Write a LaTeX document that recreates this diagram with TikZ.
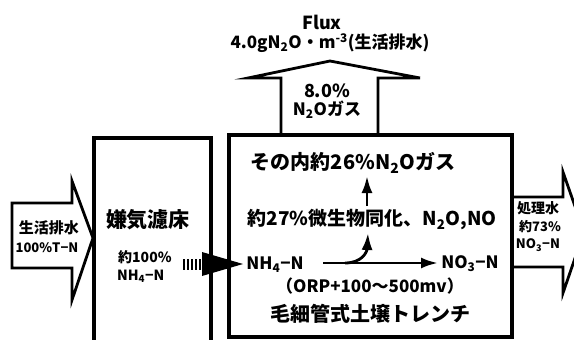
\documentclass[tikz,border=0pt]{standalone}
\usepackage{fontspec}
\setmainfont{Noto Sans CJK JP}
\usetikzlibrary{arrows.meta,calc}
\begin{document}
\begin{tikzpicture}[x=1pt,y=-1pt,
  boxline/.style={line width=4.2pt,line join=miter,line cap=butt},
  outline/.style={line width=2.8pt,line join=miter},
  lbl/.style={inner sep=0pt,align=center},
  arr/.style={line width=2.8pt,-{Latex[length=17pt,width=11pt]}},
  fs/.style={font=\fontsize{#1}{#1}\selectfont\bfseries}]
\useasboundingbox (0,0) rectangle (574,340);
% boxes
\draw[boxline] (94,345) -- (94,138) -- (211,138) -- (211,345);
\draw[boxline] (229,135) rectangle (512,337);
% top arrow
\draw[outline] (281,134) -- (281,78) -- (248,78) -- (330,61) -- (420,78) -- (378,78) -- (378,134);
% left arrow
\draw[outline] (93,238) -- (72,181) -- (72,203) -- (12,203) -- (12,268) -- (72,268) -- (72,300) -- cycle;
% right arrow
\draw[outline] (512,197) -- (563,197) -- (563,172) -- (584,232) -- (563,293) -- (563,267) -- (512,267);
% texts
\node[lbl,fs=18] (flux) at (322,22) {Flux};
\node[lbl,fs=17] (fluxv) at (330,43) {4.0gN\textsubscript{2}O・m\textsuperscript{-3}(生活排水)};
\node[lbl,fs=18] (pct8) at (327,91) {8.0\%};
\node[lbl,fs=17] (n2ogas) at (327,110) {N\textsubscript{2}Oガス};
\node[lbl,fs=15] (inflow) at (49,228) {生活排水};
\node[lbl,fs=13] (inflow2) at (47,248) {100\%T−N};
\node[lbl,fs=21] (anae) at (148,220) {嫌気濾床};
\node[lbl,fs=14,anchor=west] (an1) at (118,257) {約100\%};
\node[lbl,fs=14,anchor=west] (an2) at (117,276) {NH\textsubscript{4}−N};
\node[lbl,fs=20] (gas26) at (353,163) {その内約26\%N\textsubscript{2}Oガス};
\node[lbl,fs=19] (assim) at (372,220) {約27\%微生物同化、N\textsubscript{2}O,NO};
\node[lbl,fs=17] (nh4) at (275,265) {NH\textsubscript{4}−N};
\node[lbl,fs=17] (no3) at (470,264) {NO\textsubscript{3}−N};
\node[lbl,fs=17] (orp) at (370,286) {（ORP+100～500mv）};
\node[lbl,fs=20] (trench) at (370,314) {毛細管式土壌トレンチ};
\node[lbl,fs=14] (out1) at (538,208) {処理水};
\node[lbl,fs=13] (out2) at (540,227) {約73\%};
\node[lbl,fs=13] (out3) at (538,245) {NO\textsubscript{3}−N};
% helper coordinates
\coordinate (ux) at (367,0);
\coordinate (cx) at (368,0);
\coordinate (split) at (345,263);
\coordinate (hstart) at (323,263);
\coordinate (hend) at (438,263);
\coordinate (dstart) at (183,264);
\coordinate (dmid) at (202,264);
\coordinate (dend) at (243,264);
% connectors
\draw[arr] (hstart) -- (hend);
\draw[arr] (split) .. controls (362,263) and (367,252) .. (cx |- 0,233);
\draw[arr] (ux |- 0,206) -- (ux |- 0,176);
\draw[line width=11pt,dash pattern=on 2pt off 2pt] (dstart) -- (dmid);
\fill (dmid) ++(0,-12) -- (dend) -- ($(dmid)+(0,12)$) -- cycle;
\end{tikzpicture}
\end{document}
